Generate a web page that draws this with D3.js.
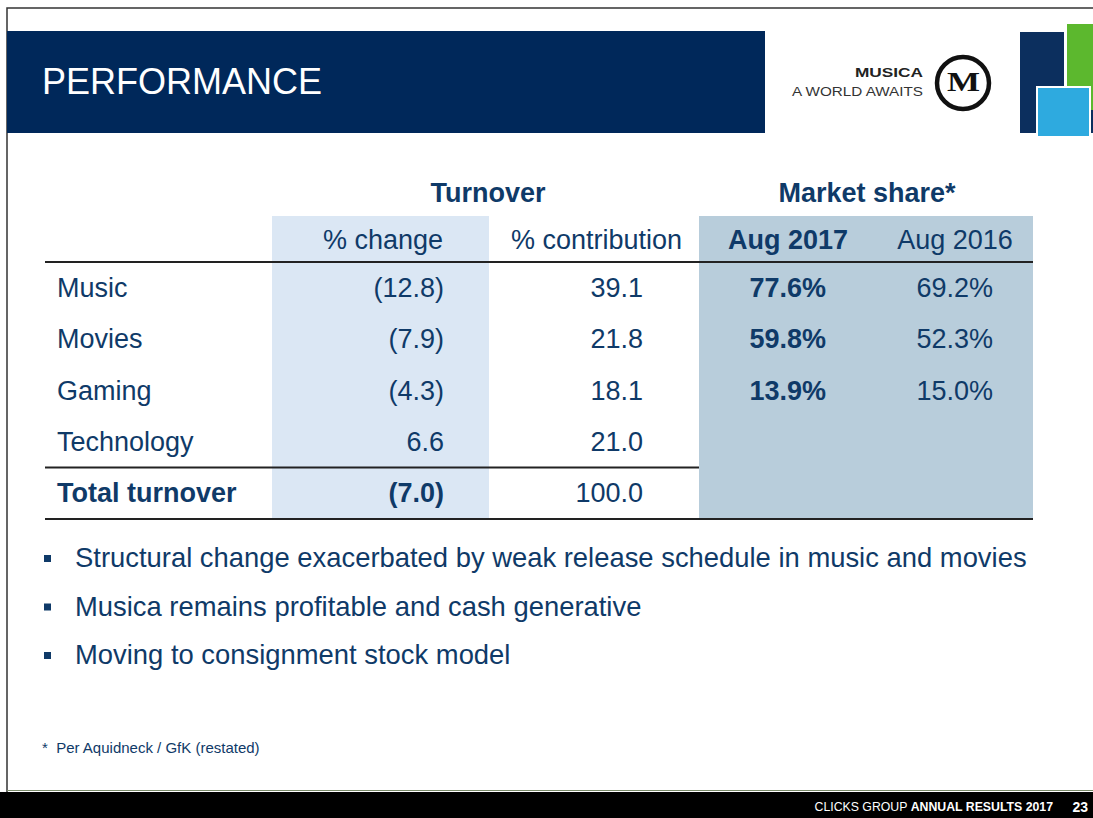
<!DOCTYPE html>
<html>
<head>
<meta charset="utf-8">
<script src="https://cdn.jsdelivr.net/npm/d3@7"></script>
<style>
  body { margin: 0; background: #fff; }
  text { font-family: "Liberation Sans", Arial, sans-serif; }
</style>
</head>
<body>
<script>
// table content
var categories = ["Music", "Movies", "Gaming", "Technology", "Total turnover"];
var pctChange = [-12.8, -7.9, -4.3, 6.6, -7.0];
var pctContribution = [39.1, 21.8, 18.1, 21.0, 100.0];
var share2017 = [77.6, 59.8, 13.9, null, null];
var share2016 = [69.2, 52.3, 15.0, null, null];
var columnKeys = ["change", "contribution", "s2017", "s2016"];
var columnLabels = ["% change", "% contribution", "Aug 2017", "Aug 2016"];
var groupLabels = ["Turnover", "Market share*"];
var bullets = [
  "Structural change exacerbated by weak release schedule in music and movies",
  "Musica remains profitable and cash generative",
  "Moving to consignment stock model"
];
var footnote = "*  Per Aquidneck / GfK (restated)";
var title = "PERFORMANCE";

var w = 1093, h = 818;
var navy = "#00285a", ink = "#0f3a68";
var fs = 27;

var svg = d3.select("body").append("svg")
    .attr("width", w)
    .attr("height", h);

// slide frame
svg.append("path")
    .attr("d", "M7," + (h - 26) + "V8H" + w)
    .attr("fill", "none")
    .attr("stroke", "#333")
    .attr("stroke-width", 1.5);

// title bar
svg.append("rect").attr("x", 7).attr("y", 31).attr("width", 758).attr("height", 102).attr("fill", navy);
svg.append("text").attr("x", 42).attr("y", 94)
    .attr("fill", "#fff").attr("font-size", 36).text(title);

// musica logo
svg.append("text").attr("x", 923).attr("y", 77).attr("text-anchor", "end")
    .attr("font-size", 13).attr("font-weight", "bold").attr("fill", "#222")
    .attr("textLength", 68).attr("lengthAdjust", "spacingAndGlyphs").text("MUSICA");
svg.append("text").attr("x", 923).attr("y", 96).attr("text-anchor", "end")
    .attr("font-size", 13).attr("fill", "#333")
    .attr("textLength", 131).attr("lengthAdjust", "spacingAndGlyphs").text("A WORLD AWAITS");
svg.append("circle").attr("cx", 963).attr("cy", 83).attr("r", 26)
    .attr("fill", "#fff").attr("stroke", "#111").attr("stroke-width", 4.5);
svg.append("text").attr("x", 947).attr("y", 91)
    .attr("font-size", 27).attr("font-weight", "bold").attr("fill", "#111")
    .attr("textLength", 33).attr("lengthAdjust", "spacingAndGlyphs")
    .style("font-family", "'Liberation Serif', serif").text("M");

// clicks blocks
svg.append("rect").attr("x", 1067).attr("y", 24).attr("width", 30).attr("height", 88).attr("fill", "#5cb82e");
svg.append("rect").attr("x", 1020).attr("y", 32).attr("width", 44).attr("height", 101).attr("fill", "#0c2f5e");
svg.append("rect").attr("x", 1088).attr("y", 110).attr("width", 10).attr("height", 23).attr("fill", "#0c2f5e");
svg.append("rect").attr("x", 1037).attr("y", 87).attr("width", 53).attr("height", 50)
    .attr("fill", "#2eaadf").attr("stroke", "#fff").attr("stroke-width", 2);

// scales
var y = d3.scaleBand().domain(categories).range([262, 519]);
var colX = d3.scaleOrdinal().domain(columnKeys).range([444, 643, 826, 993]);
var headX = d3.scaleOrdinal().domain(columnKeys).range([443, 682, 788, 955]);
var headAnchor = d3.scaleOrdinal().domain(columnKeys).range(["end", "end", "middle", "middle"]);
var groupX = d3.scaleOrdinal().domain(groupLabels).range([488, 867]);

var fmt = d3.format(".1f");
function fmtChange(v) { return v < 0 ? "(" + fmt(-v) + ")" : fmt(v); }
function fmtShare(v) { return v == null ? "" : fmt(v) + "%"; }

// shaded columns
svg.append("rect").attr("x", 272).attr("y", 216).attr("width", 217).attr("height", 303).attr("fill", "#dbe7f4");
svg.append("rect").attr("x", 699).attr("y", 216).attr("width", 334).attr("height", 303).attr("fill", "#b8cddb");

// group headings
svg.selectAll(".group").data(groupLabels).enter().append("text")
    .attr("class", "group")
    .attr("x", function(d) { return groupX(d); })
    .attr("y", 202)
    .attr("text-anchor", "middle")
    .attr("font-size", fs).attr("font-weight", "bold").attr("fill", ink)
    .text(function(d) { return d; });

// column headings
svg.selectAll(".colhead").data(columnKeys).enter().append("text")
    .attr("class", "colhead")
    .attr("x", function(d) { return headX(d); })
    .attr("y", 249)
    .attr("text-anchor", function(d) { return headAnchor(d); })
    .attr("font-size", fs).attr("fill", ink)
    .attr("font-weight", function(d) { return d == "s2017" ? "bold" : "normal"; })
    .text(function(d, i) { return columnLabels[i]; });

// rules
var rules = [[45, 1033, y.range()[0]], [45, 699, y(categories[categories.length - 1])], [45, 1033, y.range()[1]]];
svg.selectAll(".rule").data(rules).enter().append("line")
    .attr("x1", function(d) { return d[0]; })
    .attr("x2", function(d) { return d[1]; })
    .attr("y1", function(d) { return d[2]; })
    .attr("y2", function(d) { return d[2]; })
    .attr("stroke", "#222").attr("stroke-width", 2);

// rows
var rows = svg.selectAll(".row").data(categories).enter().append("g")
    .attr("class", "row")
    .attr("transform", function(d) { return "translate(0," + (y(d) + y.bandwidth() / 2 + 9) + ")"; });

var isTotal = function(i) { return i == categories.length - 1; };

rows.append("text").attr("x", 57).attr("font-size", fs).attr("fill", ink)
    .attr("font-weight", function(d, i) { return isTotal(i) ? "bold" : "normal"; })
    .text(function(d) { return d; });

rows.append("text").attr("x", colX("change")).attr("text-anchor", "end")
    .attr("font-size", fs).attr("fill", ink)
    .attr("font-weight", function(d, i) { return isTotal(i) ? "bold" : "normal"; })
    .text(function(d, i) { return fmtChange(pctChange[i]); });

rows.append("text").attr("x", colX("contribution")).attr("text-anchor", "end")
    .attr("font-size", fs).attr("fill", ink)
    .text(function(d, i) { return fmt(pctContribution[i]); });

rows.append("text").attr("x", colX("s2017")).attr("text-anchor", "end")
    .attr("font-size", fs).attr("font-weight", "bold").attr("fill", ink)
    .text(function(d, i) { return fmtShare(share2017[i]); });

rows.append("text").attr("x", colX("s2016")).attr("text-anchor", "end")
    .attr("font-size", fs).attr("fill", ink)
    .text(function(d, i) { return fmtShare(share2016[i]); });

// bullets
var by = d3.scalePoint().domain(d3.range(bullets.length)).range([567, 664]);
var bl = svg.selectAll(".bullet").data(bullets).enter().append("g")
    .attr("class", "bullet")
    .attr("transform", function(d, i) { return "translate(0," + by(i) + ")"; });
bl.append("rect").attr("x", 44).attr("y", -12).attr("width", 7).attr("height", 7).attr("fill", ink);
bl.append("text").attr("x", 75).attr("font-size", 27.4).attr("fill", ink).text(function(d) { return d; });

// footnote
svg.append("text").attr("x", 42).attr("y", 753).attr("font-size", 15).attr("fill", ink)
    .style("white-space", "pre").text(footnote);

// footer
svg.append("line").attr("x1", 7).attr("x2", w).attr("y1", 790.5).attr("y2", 790.5)
    .attr("stroke", "#7a8a6a").attr("stroke-width", 1);
svg.append("rect").attr("x", 0).attr("y", 792).attr("width", w).attr("height", 26).attr("fill", "#000");
var ft = svg.append("text").attr("x", 1053).attr("y", 811).attr("text-anchor", "end")
    .attr("font-size", 12.3).attr("fill", "#fff");
ft.append("tspan").text("CLICKS GROUP ");
ft.append("tspan").attr("font-weight", "bold").text("ANNUAL RESULTS 2017");
svg.append("text").attr("x", 1088).attr("y", 812).attr("text-anchor", "end")
    .attr("font-size", 14).attr("font-weight", "bold").attr("fill", "#fff").text("23");
</script>
</body>
</html>
